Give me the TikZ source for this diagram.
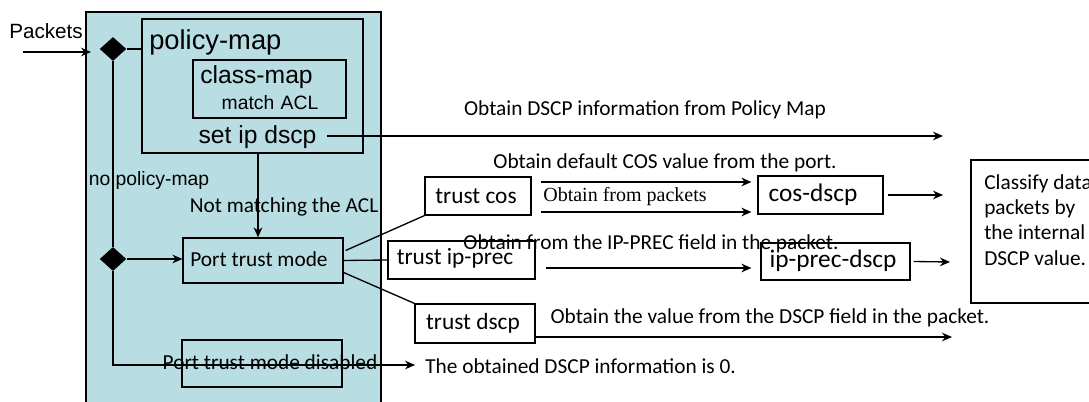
\documentclass[tikz,border=0pt]{standalone}
\usepackage{fontspec}
\setmainfont{Carlito}
\newfontfamily\lsans{Liberation Sans}
\newfontfamily\lserif{Liberation Serif}
\usetikzlibrary{arrows.meta,shapes.geometric,calc}
\definecolor{tealbg}{RGB}{184,221,226}
\tikzset{
  box/.style={draw, line width=0.9pt, inner sep=0pt},
  tbox/.style={box, fill=tealbg},
  wbox/.style={box, fill=white},
  txt/.style={inner sep=0pt, font=\fontsize{16}{19}\selectfont},
  trusttxt/.style={inner sep=0pt, font=\fontsize{17.5}{20}\selectfont},
  maptxt/.style={inner sep=0pt, font=\fontsize{19}{22}\selectfont},
  sanstxt/.style={inner sep=0pt, font=\lsans\fontsize{#1}{#1}\selectfont},
  conn/.style={line width=1pt},
  arr/.style={conn, -{Stealth[length=7.5pt, width=6.5pt, inset=2.4pt]}},
  dia/.style={diamond, fill=black, inner sep=0pt, minimum width=20pt, minimum height=18pt},
}
\begin{document}
\begin{tikzpicture}[x=0.75pt,y=-0.75pt]
\useasboundingbox (0,0) rectangle (1089,402);
\clip (0,0) rectangle (1089,402);
\fill[white] (0,0) rectangle (1089,402);

% boxes
\node[tbox, minimum width=221.25pt, minimum height=298.5pt] (qos) at (233.5,211) {};
\node[tbox, minimum width=165.75pt, minimum height=100.5pt] (policy) at (252.5,86) {};
\node[tbox, minimum width=114.75pt, minimum height=43.5pt] (class) at (269.5,89) {};
\node[tbox, minimum width=120pt, minimum height=33.75pt] (ptm) at (263,260.5) {};
\node[tbox, minimum width=120pt, minimum height=35.25pt] (ptmd) at (262,363.5) {};
\node[wbox, minimum width=79.5pt, minimum height=28.5pt] (tcos) at (478,196) {};
\node[wbox, minimum width=110.25pt, minimum height=28.5pt] (tip) at (461.5,260) {};
\node[wbox, minimum width=90pt, minimum height=29.25pt] (tdscp) at (475,323.5) {};
\node[wbox, minimum width=93.75pt, minimum height=28.5pt] (cosd) at (820.5,195) {};
\node[wbox, minimum width=111.75pt, minimum height=27.75pt] (ipd) at (835.5,261.5) {};
\node[wbox, minimum width=96pt, minimum height=107.25pt] (cls) at (1035,231.5) {};

% diamonds
\node[dia] (d1) at (113,49) {};
\node[dia] (d2) at (113,259) {};

% free ends
\coordinate (pin) at (23,52);
\coordinate (pinend) at (91,52);
\coordinate (polend) at (943,136);
\coordinate (zero) at (415,365);
\coordinate (cosend) at (943,195);
\coordinate (ipend) at (950,262);
\coordinate (dscpend) at (952,337);
\coordinate (nmx) at (258,0);

% connectors
\draw[arr] (pin) -- (pinend);
\draw[conn] (d1.east) -- (policy.west |- d1.east);
\draw[conn] (d1.south) -- (d2.north);
\draw[arr] (d2.east) -- (ptm.west |- d2.east);
\draw[arr] (d2.south) |- (zero);
\draw[arr] (policy.south -| nmx) -- (ptm.north -| nmx);
\draw[conn] ($(ptm.east)+(2,-10)$) -- (tcos.south west);
\draw[conn] (ptm.east) -- (tip.west);
\draw[conn] ($(ptm.east)+(0,12)$) -- (tdscp.north west);
\draw[arr] ($(tcos.east)+(9,-14)$) -- ($(cosd.west)+(-6,-13)$);
\draw[arr] ($(tcos.east)+(9,16)$) -- ($(cosd.west)+(-6,17)$);
\draw[arr] ($(tip.east)+(10,8)$) -- ($(ipd.west)+(-9,6.5)$);
\draw[arr] ($(cosd.east)+(4,0)$) -- (cosend);
\draw[arr] ($(ipd.east)+(3,0)$) -- (ipend);
\draw[arr] ($(tdscp.east)+(0,13.5)$) -- (dscpend);

% texts
\node[sanstxt=15.5, anchor=west] (tpk) at (9,31) {Packets};
\node[sanstxt=20.5, anchor=west] (tpm) at (149,42) {policy-map};
\node[sanstxt=18.5] (tcm) at (256.5,77) {class-map};
\node[sanstxt=14.5] (tma) at (270,103) {match\,\,ACL};
\node[sanstxt=18.5] (node-sip) at (257.5,137) {set ip dscp};
\draw[arr] ($(node-sip.east)+(10,-1)$) -- (polend);
\node[sanstxt=14.5] (tnp) at (149,181) {no policy-map};
\node[txt] (tnm) at (284,207) {Not matching the ACL};
\node[txt] (tptm) at (259,259) {Port trust mode};
\node[txt] (tptmd) at (270,362) {Port trust mode disabled};
\node[trusttxt] (ttc) at (476,196) {trust cos};
\node[trusttxt] (tti) at (455,258) {trust ip-prec};
\node[trusttxt] (ttd) at (473,323) {trust dscp};
\node[maptxt] (tcd) at (813,195) {cos-dscp};
\node[maptxt] (tid) at (833,261) {ip-prec-dscp};
\node[txt, anchor=west, align=left, font=\fontsize{16}{19}\selectfont] (tcl) at (984,220) {Classify data\\packets by\\the internal\\DSCP value.};
\node[txt] (o1) at (645,110) {Obtain DSCP information from Policy Map};
\node[txt] (o2) at (665,163) {Obtain default COS value from the port.};
\node[inner sep=0pt, font=\lserif\fontsize{15}{18}\selectfont] (o3) at (625,197) {Obtain from packets};
\node[txt] (o4) at (651,244) {Obtain from the IP-PREC field in the packet.};
\node[txt] (o5) at (770,318) {Obtain the value from the DSCP field in the packet.};
\node[txt, anchor=west] (o6) at (425,366) {The obtained DSCP information is 0.};
\end{tikzpicture}
\end{document}
